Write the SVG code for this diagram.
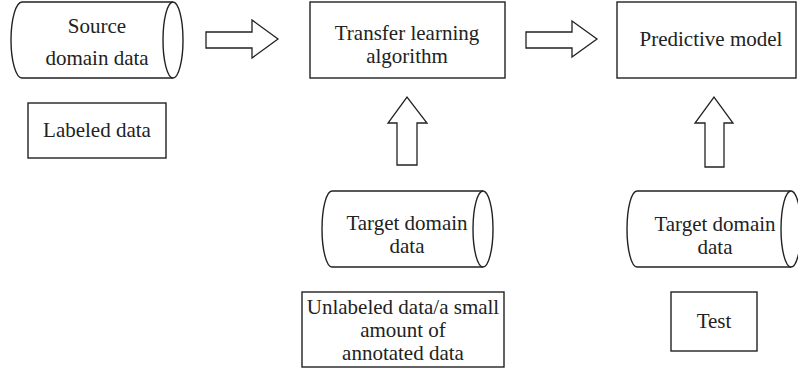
<svg xmlns="http://www.w3.org/2000/svg" width="798" height="373" viewBox="0 0 798 373">
  <style>
    .shape { fill: #ffffff; stroke: #222222; stroke-width: 1.4; }
    .arrow { fill: #ffffff; stroke: #222222; stroke-width: 1.3; stroke-linejoin: miter; }
    text { font-family: "Liberation Serif", "Times New Roman", serif; font-size: 21px; fill: #222222; text-anchor: middle; }
  </style>
  <rect width="798" height="373" fill="#ffffff"/>

  <!-- block arrows between stages -->
  <g id="connectors">
    <polygon class="arrow" points="206,32 252,32 252,20 278,39 252,58 252,48 206,48"/>
    <polygon class="arrow" points="526,32 572,32 572,21 597,39 572,57 572,48 526,48"/>
    <polygon class="arrow" points="397,165 397,123 388,123 407,97 427,123 417,123 417,165"/>
    <polygon class="arrow" points="705,167 705,123 695,123 714,97 733,123 724,123 724,167"/>
  </g>

  <g id="source-data">
    <path class="shape" d="M22,2 L173,2 A10,38 0 0 1 173,78 L22,78 A11,38 0 0 1 22,2 Z"/>
    <path class="shape" d="M173,2 A10,38 0 0 0 173,78"/>
    <text x="97" y="33">Source</text>
    <text x="97" y="65">domain data</text>
  </g>

  <g id="labeled-data">
    <rect class="shape" x="28" y="103" width="138" height="55"/>
    <text x="97" y="137">Labeled data</text>
  </g>

  <g id="transfer-algorithm">
    <rect class="shape" x="310" y="2" width="195" height="76"/>
    <text x="407" y="40">Transfer learning</text>
    <text x="407" y="63">algorithm</text>
  </g>

  <g id="predictive-model">
    <rect class="shape" x="617" y="2" width="179" height="76"/>
    <text x="711" y="46">Predictive model</text>
  </g>

  <g id="target-data-train">
    <path class="shape" d="M332,191 L483,191 A10,38 0 0 1 483,267 L332,267 A10,38 0 0 1 332,191 Z"/>
    <path class="shape" d="M483,191 A10,38 0 0 0 483,267"/>
    <text x="407" y="230">Target domain</text>
    <text x="407" y="253">data</text>
  </g>

  <g id="unlabeled-data">
    <rect class="shape" x="302" y="292" width="202" height="75"/>
    <text x="403" y="314">Unlabeled data/a small</text>
    <text x="403" y="337">amount of</text>
    <text x="403" y="360">annotated data</text>
  </g>

  <g id="target-data-test">
    <path class="shape" d="M637,191 L791,191 A10,38 0 0 1 791,267 L637,267 A10,38 0 0 1 637,191 Z"/>
    <path class="shape" d="M791,191 A10,38 0 0 0 791,267"/>
    <text x="715" y="231">Target domain</text>
    <text x="715" y="254">data</text>
  </g>

  <g id="test">
    <rect class="shape" x="671" y="292" width="86" height="59"/>
    <text x="714" y="328">Test</text>
  </g>
</svg>
